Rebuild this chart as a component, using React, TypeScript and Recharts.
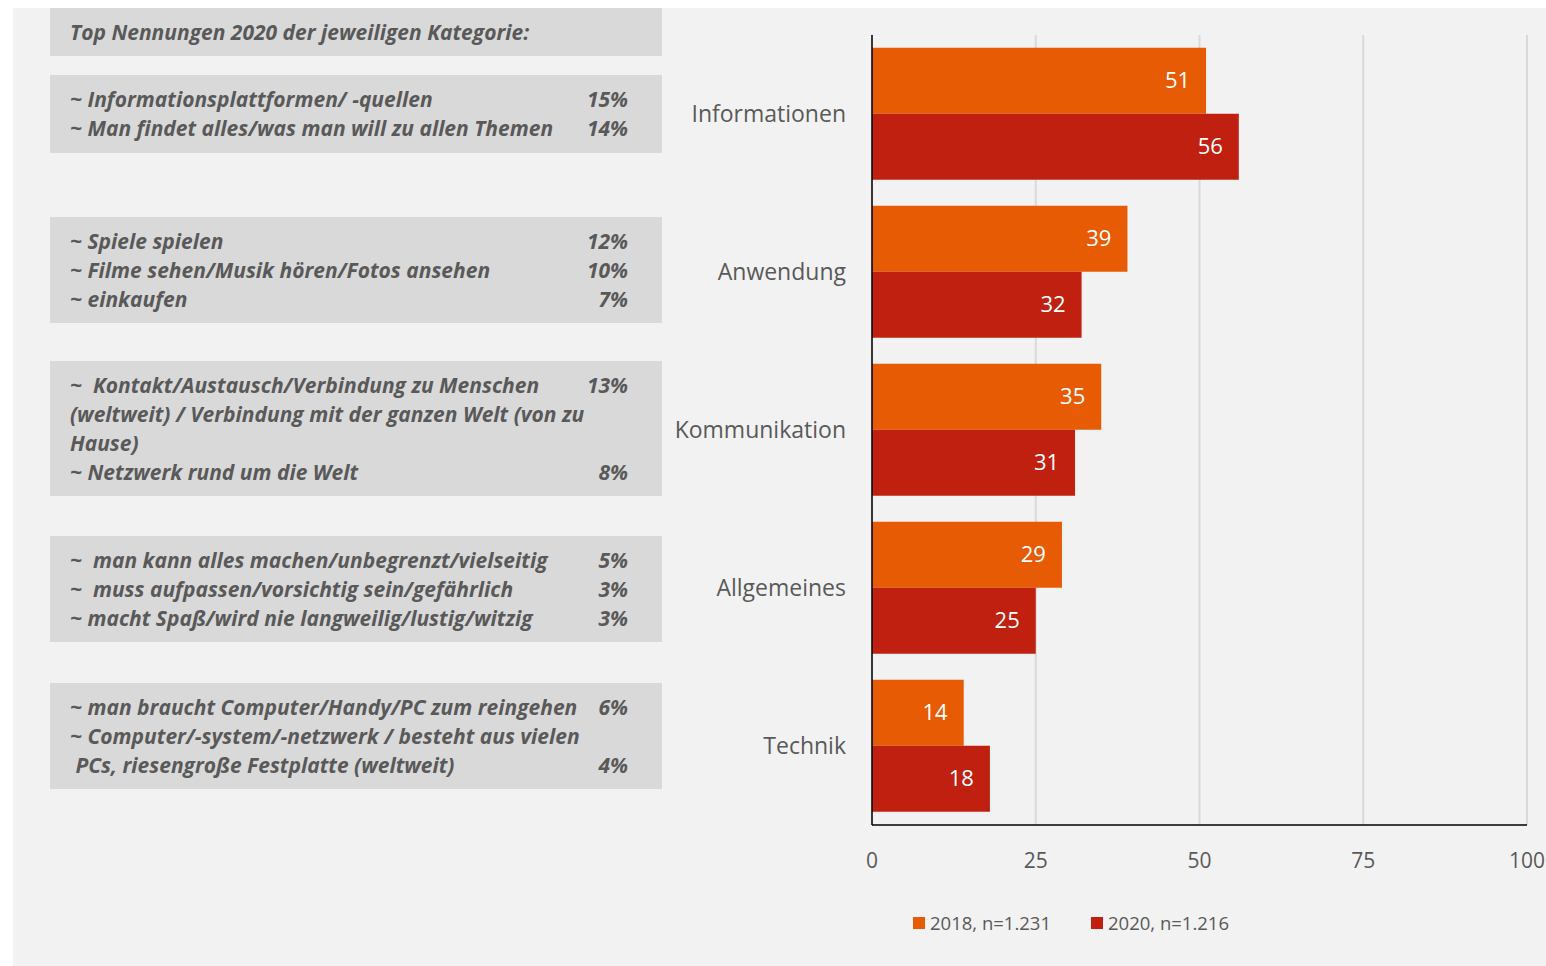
import React from "react";
import { BarChart, Bar, XAxis, YAxis, CartesianGrid, LabelList } from "recharts";

// Kategorien und Werte (in %)
const categories = ["Informationen", "Anwendung", "Kommunikation", "Allgemeines", "Technik"];
const values2018 = [51, 39, 35, 29, 14];
const values2020 = [56, 32, 31, 25, 18];
const xTicks = [0, 25, 50, 75, 100];

const series = [
  { key: "y2018", name: "2018, n=1.231", color: "#E65B04" },
  { key: "y2020", name: "2020, n=1.216", color: "#C0200F" },
];

// Textkästen links: [Text, Prozent]
const headerNote = "Top Nennungen 2020 der jeweiligen Kategorie:";
const noteBoxes: [string, string][][] = [
  [["~ Informationsplattformen/ -quellen", "15%"], ["~ Man findet alles/was man will zu allen Themen", "14%"]],
  [["~ Spiele spielen", "12%"], ["~ Filme sehen/Musik hören/Fotos ansehen", "10%"], ["~ einkaufen", "7%"]],
  [
    ["~  Kontakt/Austausch/Verbindung zu Menschen", "13%"],
    ["(weltweit) / Verbindung mit der ganzen Welt (von zu", ""],
    ["Hause)", ""],
    ["~ Netzwerk rund um die Welt", "8%"],
  ],
  [
    ["~  man kann alles machen/unbegrenzt/vielseitig", "5%"],
    ["~  muss aufpassen/vorsichtig sein/gefährlich", "3%"],
    ["~ macht Spaß/wird nie langweilig/lustig/witzig", "3%"],
  ],
  [
    ["~ man braucht Computer/Handy/PC zum reingehen", "6%"],
    ["~ Computer/-system/-netzwerk / besteht aus vielen", ""],
    [" PCs, riesengroße Festplatte (weltweit)", "4%"],
  ],
];

const data = categories.map((cat, i) => ({ cat, y2018: values2018[i], y2020: values2020[i] }));

const FONT = "'Open Sans', sans-serif";
const TEXT = "#595959";
const BOX = "#D9D9D9";

const boxTops = [67, 209, 353, 528, 675];
const boxHeights = [78, 106, 135, 106, 106];

const noteText: React.CSSProperties = {
  fontFamily: FONT,
  fontStyle: "italic",
  fontWeight: 700,
  fontSize: 21,
  lineHeight: "29px",
  color: TEXT,
  whiteSpace: "pre",
};

function NoteBox({ top, height, lines }: { top: number; height: number; lines: [string, string][] }) {
  return (
    <div style={{ position: "absolute", left: 37, top, width: 612, height, background: BOX, paddingTop: 10, boxSizing: "border-box" }}>
      {lines.map(([t, p], i) => (
        <div key={i} style={{ ...noteText, position: "relative", height: 29 }}>
          <span style={{ position: "absolute", left: 20 }}>{t}</span>
          {p && <span style={{ position: "absolute", right: 34 }}>{p}</span>}
        </div>
      ))}
    </div>
  );
}

export default function App() {
  return (
    <div style={{ position: "absolute", left: 13, top: 8, width: 1533, height: 958, background: "#F2F2F2", overflow: "hidden" }}>
      <div style={{ position: "absolute", left: 37, top: 0, width: 612, height: 48, background: BOX, paddingTop: 10, boxSizing: "border-box" }}>
        <div style={{ ...noteText, paddingLeft: 20 }}>{headerNote}</div>
      </div>
      {noteBoxes.map((lines, i) => (
        <NoteBox key={i} top={boxTops[i]} height={boxHeights[i]} lines={lines} />
      ))}

      <div style={{ position: "absolute", left: 647, top: 0 }}>
        <BarChart width={886} height={958} data={data} layout="vertical"
          margin={{ top: 27, right: 19, bottom: 81, left: 0 }} barCategoryGap="8%" barGap={0}>
          <CartesianGrid horizontal={false} stroke="#D9D9D9" strokeWidth={2} />
          <XAxis type="number" domain={[0, 100]} ticks={xTicks} height={60} tickLine={false} tickSize={0} tickMargin={28}
            axisLine={{ stroke: "#000", strokeWidth: 1.5 }} tick={{ fontSize: 21, fill: TEXT, fontFamily: FONT }} />
          <YAxis type="category" dataKey="cat" width={212} tickLine={false} tickSize={0} tickMargin={26}
            axisLine={{ stroke: "#000", strokeWidth: 1.5 }} tick={{ fontSize: 23, fill: TEXT, fontFamily: FONT }} />
          {series.map((s) => (
            <Bar key={s.key} dataKey={s.key} name={s.name} fill={s.color} isAnimationActive={false}>
              <LabelList dataKey={s.key} position="insideRight" offset={16} fill="#fff" fontSize={22} fontFamily={FONT} />
            </Bar>
          ))}
        </BarChart>
      </div>

      {/* Legende */}
      <div style={{ position: "absolute", left: 900, top: 902, display: "flex", alignItems: "center", fontFamily: FONT, fontSize: 18.5, color: TEXT }}>
        {series.map((s) => (
          <span key={s.key} style={{ display: "inline-flex", alignItems: "center", marginRight: 40 }}>
            <span style={{ width: 12, height: 12, background: s.color, marginRight: 5 }} />
            {s.name}
          </span>
        ))}
      </div>
    </div>
  );
}
